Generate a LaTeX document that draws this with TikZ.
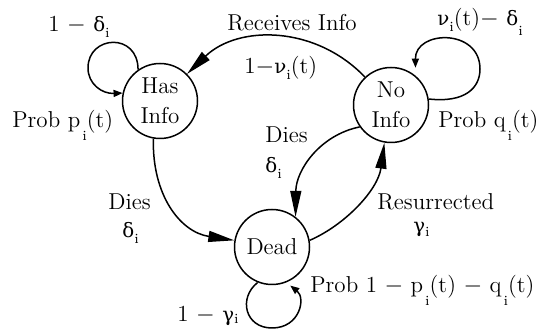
\documentclass[tikz,border=0pt]{standalone}
\usepackage{fontspec}
\newfontfamily\grkfont{DejaVu Serif}[Scale=0.86]
\usetikzlibrary{arrows.meta}
\newcommand\lowsub[2]{\raisebox{-#1}{\fontsize{7}{7}\selectfont #2}}
\newcommand\gdel{{\grkfont δ}}
\newcommand\gnu{{\grkfont ν}}
\newcommand\ggam{{\grkfont γ}}
\newcommand\mn{$-$}
\begin{document}
\begin{tikzpicture}[x=0.5pt,y=-0.5pt,
  font=\fontsize{11.5}{15}\selectfont,
  state/.style={draw, circle, line width=0.75pt, minimum size=37.5pt, inner sep=0pt, align=center},
  edge/.style={line width=0.75pt, -{Triangle[length=13pt,width=5.5pt]}},
  selfloop/.style={line width=0.75pt, -{Triangle[length=4.5pt,width=3.5pt]}},
  lbl/.style={anchor=base west, inner sep=0pt}]
\useasboundingbox (0,0) rectangle (540,335);

\node[state] (H) at (160,101) {Has\\Info};
\node[state] (N) at (391,105) {No\\Info};
\node[state] (D) at (272,247) {Dead};

% transitions
\draw[edge] (N.133) .. controls (315,25) and (238,25) .. (H.45);
\draw[edge] (H.-100) .. controls (152,195) and (180,232) .. (D.170);
\draw[edge] (N.-145) .. controls (320,135) and (296,170) .. (D.52);
\draw[edge] (D.10) .. controls (345,225) and (378,190) .. (N.-100);

% self loops
\draw[selfloop] (H.125) .. controls (138,32) and (88,35) .. (88,68)
   .. controls (88,84) and (102,94) .. (H.168);
\draw[selfloop, shorten >=4pt] (N.9) .. controls (465,103) and (480,88) .. (480,69)
   .. controls (480,28) and (415,30) .. (N.50);
\draw[selfloop, shorten >=2.5pt] (D.-112) .. controls (238,298) and (245,328) .. (272,328)
   .. controls (300,328) and (306,298) .. (D.-68);

% labels
\node[lbl] (lh) at (48,32) {1 \mn{} \gdel\lowsub{3pt}{i}};
\node[lbl] (ph) at (12,128) {Prob p\kern1pt\lowsub{6.5pt}{i}(t)};
\node[lbl] (rcv) at (227,31) {Receives Info};
\node[lbl] (rcvp) at (244,74) {1\mn\gnu\lowsub{3pt}{i}(t)};
\node[lbl] (ln) at (437,26) {\gnu\lowsub{3pt}{i}(t)\mn{} \gdel\lowsub{5pt}{i}};
\node[lbl] (pn) at (438,128) {Prob q\kern1pt\lowsub{6.5pt}{i}(t)};
\node[lbl] (dm1) at (265,143) {Dies};
\node[lbl] (dm2) at (265,173) {\gdel\lowsub{3pt}{i}};
\node[lbl] (dl1) at (108,210) {Dies};
\node[lbl] (dl2) at (122,238) {\gdel\lowsub{3pt}{i}};
\node[lbl] (rs1) at (377,210) {Resurrected};
\node[lbl] (rs2) at (413,233) {\ggam\lowsub{2pt}{i}};
\node[lbl] (pd) at (310,293) {Prob 1 \mn{} p\kern1pt\lowsub{6.5pt}{i}(t) \mn{} q\kern1pt\lowsub{6.5pt}{i}(t)};
\node[lbl] (ld) at (177,322) {1 \mn{} \ggam\lowsub{1pt}{i}};
\end{tikzpicture}
\end{document}
